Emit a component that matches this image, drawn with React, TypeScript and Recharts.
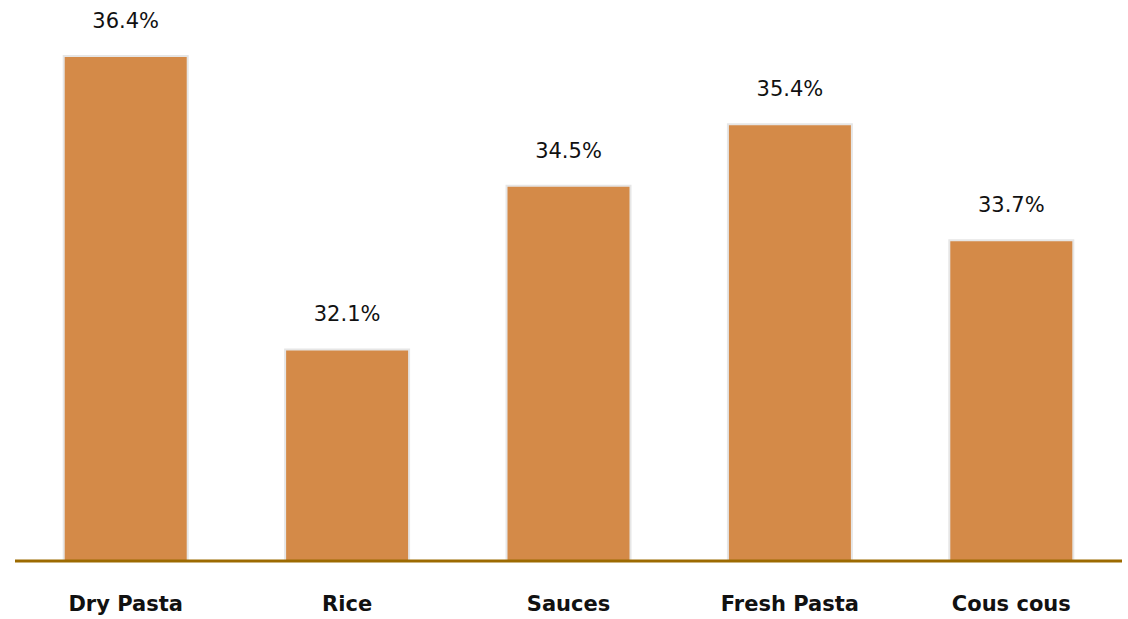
import React from "react";
import { BarChart, Bar, XAxis, YAxis, LabelList, ReferenceLine } from "recharts";

const categories = ["Dry Pasta", "Rice", "Sauces", "Fresh Pasta", "Cous cous"];
const shares = [36.4, 32.1, 34.5, 35.4, 33.7];
const yDomain: [number, number] = [29, 37];

const data = categories.map((name, i) => ({ name, value: shares[i] }));

const FONT = "'DejaVu Sans', Verdana, sans-serif";

const CatTick = (props: any) => {
  const { x, y, payload } = props;
  return (
    <text x={x} y={y + 42} textAnchor="middle" fontFamily={FONT} fontWeight="bold" fontSize={21} fill="#111">
      {payload.value}
    </text>
  );
};

const ValueLabel = (props: any) => {
  const { x, y, width, value } = props;
  return (
    <text x={x + width / 2} y={y - 28} textAnchor="middle" fontFamily={FONT} fontSize={21} fill="#111">
      {`${value.toFixed(1)}%`}
    </text>
  );
};

export default function App() {
  return (
    <div style={{ position: "absolute", left: 0, top: 0, width: 1128, height: 619, background: "#fff" }}>
      <BarChart width={1128} height={619} data={data} margin={{ top: 15, right: 6, left: 15, bottom: 18 }} barCategoryGap="22%">
        <XAxis dataKey="name" axisLine={false} tickLine={false} tick={<CatTick />} height={40} interval={0} />
        <YAxis hide domain={yDomain} allowDataOverflow type="number" />
        <Bar dataKey="value" fill="#D48A48" stroke="#E6E6E6" strokeWidth={2} isAnimationActive={false}>
          <LabelList dataKey="value" content={<ValueLabel />} />
        </Bar>
        <ReferenceLine y={29} stroke="#9C6A00" strokeWidth={3} />
      </BarChart>
    </div>
  );
}
